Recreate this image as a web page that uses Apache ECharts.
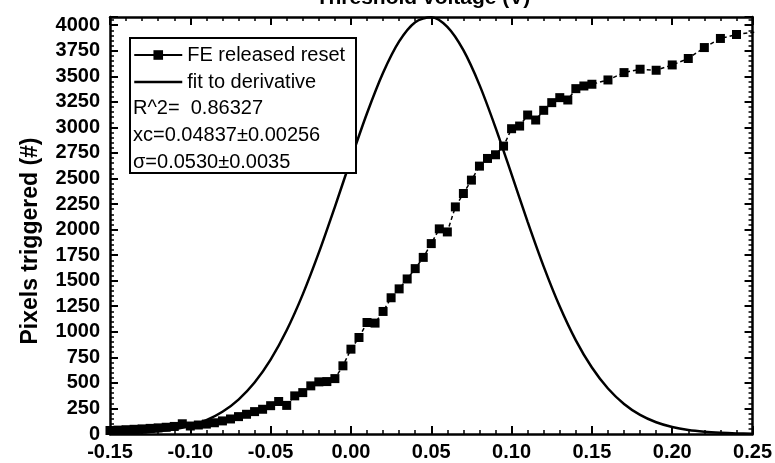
<!DOCTYPE html>
<html><head><meta charset="utf-8">
<script src="https://cdn.jsdelivr.net/npm/echarts@6/dist/echarts.min.js"></script>
<style>html,body{margin:0;padding:0;background:#fff}#c{width:775px;height:463px}</style>
</head><body><div id="c"></div>
<script>
// Measured data: "FE released reset" (threshold voltage V, pixels triggered)
const dataX = [-0.15,-0.145,-0.14,-0.135,-0.13,-0.125,-0.12,-0.115,-0.11,-0.105,-0.1,-0.095,-0.09,-0.085,-0.08,-0.075,-0.07,-0.065,-0.06,-0.055,-0.05,-0.045,-0.04,-0.035,-0.03,-0.025,-0.02,-0.015,-0.01,-0.005,0,0.005,0.01,0.015,0.02,0.025,0.03,0.035,0.04,0.045,0.05,0.055,0.06,0.065,0.07,0.075,0.08,0.085,0.09,0.095,0.1,0.105,0.11,0.115,0.12,0.125,0.13,0.135,0.14,0.145,0.15,0.16,0.17,0.18,0.19,0.2,0.21,0.22,0.23,0.24,0.26];
const dataY = [34,38,42,46,50,55,60,66,74,100,78,88,97,110,128,147,170,193,219,242,277,318,280,373,405,471,510,513,542,667,830,944,1091,1085,1199,1333,1420,1517,1618,1728,1863,2007,1977,2222,2353,2484,2621,2696,2732,2817,2987,3013,3121,3072,3167,3242,3291,3268,3379,3405,3422,3464,3536,3569,3559,3611,3674,3781,3870,3909,3950];
// Fit curve
const fitX = [-0.15,-0.14,-0.13,-0.12,-0.11,-0.1,-0.09,-0.08,-0.07,-0.06,-0.05,-0.04,-0.03,-0.02,-0.01,0,0.01,0.02,0.03,0.04,0.05,0.06,0.07,0.08,0.09,0.1,0.11,0.12,0.13,0.14,0.15,0.16,0.17,0.18,0.19,0.2,0.21,0.22,0.23,0.24,0.25];
const fitY = [4,7,14,26,47,81,135,217,337,504,728,1015,1366,1774,2223,2689,3138,3534,3841,4029,4078,3983,3755,3416,2998,2540,2076,1638,1247,916,650,445,294,187,115,68,39,22,12,6,3];
const seriesNames = ['FE released reset', 'fit to derivative'];
const fitInfo = ['R^2=  0.86327', 'xc=0.04837\u00b10.00256', '\u03c3=0.0530\u00b10.0035'];
const xName = 'Threshold voltage (V)';
const yName = 'Pixels triggered (#)';

const FONT = '"Liberation Sans", Arial, Helvetica, sans-serif';
const pair = (xs, ys) => xs.map((x, i) => [x, ys[i]]);

function xAx(pos, showLabel) {
  return {
    type: 'value', position: pos, min: -0.15, max: 0.25, interval: 0.05,
    axisLine: {show: true, onZero: false, lineStyle: {color: '#000', width: 2.5}},
    axisTick: {show: true, inside: true, length: 8, lineStyle: {color: '#000', width: 2}},
    minorTick: {show: true, splitNumber: 5, length: 4, lineStyle: {color: '#000', width: 1.5}},
    axisLabel: {show: showLabel, margin: 8, color: '#000', fontSize: 20, fontWeight: 'bold', fontFamily: FONT,
      formatter: v => v.toFixed(2)},
    splitLine: {show: false}
  };
}
function yAx(pos, showLabel) {
  return {
    type: 'value', position: pos, min: 0, max: 4080, interval: 250,
    axisLine: {show: true, onZero: false, lineStyle: {color: '#000', width: 2.5}},
    axisTick: {show: true, inside: true, length: 8, lineStyle: {color: '#000', width: 2}},
    minorTick: {show: true, splitNumber: 5, length: 4, lineStyle: {color: '#000', width: 1.5}},
    axisLabel: {show: showLabel, margin: 10, color: '#000', fontSize: 20, fontWeight: 'bold', fontFamily: FONT,
      showMaxLabel: false, formatter: v => (v % 250 === 0 ? String(v) : '')},
    splitLine: {show: false}
  };
}

const chart = echarts.init(document.getElementById('c'), null, {renderer: 'canvas'});
chart.setOption({
  animation: false,
  backgroundColor: '#fff',
  grid: {left: 110, right: 18, top: 17, bottom: 29, containLabel: false},
  xAxis: [xAx('bottom', true), xAx('top', false)],
  yAxis: [yAx('left', true), yAx('right', false)],
  legend: {
    orient: 'vertical', left: 133, top: 45, padding: 0, itemGap: 7,
    itemWidth: 48, itemHeight: 12, z: 6,
    textStyle: {fontSize: 20, color: '#000', fontFamily: FONT},
    data: [
      {name: seriesNames[0], lineStyle: {type: 'solid', width: 2, color: '#000'}},
      {name: seriesNames[1], lineStyle: {type: 'solid', width: 2.5, color: '#000'}, itemStyle: {opacity: 0}}
    ]
  },
  series: [
    {
      name: seriesNames[1], type: 'line', data: pair(fitX, fitY), smooth: 0.3,
      symbol: 'none', color: '#000', z: 2,
      lineStyle: {color: '#000', width: 2.5}
    },
    {
      name: seriesNames[0], type: 'line', data: pair(dataX, dataY),
      symbol: 'rect', symbolSize: 9, color: '#000', z: 2,
      itemStyle: {color: '#000'},
      lineStyle: {color: '#000', width: 1.5, type: [4, 3]}
    }
  ],
  graphic: [
    {type: 'rect', z: 3, shape: {x: 130, y: 38, width: 226, height: 135},
      style: {fill: '#fff', stroke: '#000', lineWidth: 2}},
    {type: 'text', z: 7, x: 133, y: 108, style: {text: fitInfo[0], font: '20px ' + FONT, fill: '#000', verticalAlign: 'middle'}},
    {type: 'text', z: 7, x: 133, y: 135, style: {text: fitInfo[1], font: '20px ' + FONT, fill: '#000', verticalAlign: 'middle'}},
    {type: 'text', z: 7, x: 133, y: 162, style: {text: fitInfo[2], font: '20px ' + FONT, fill: '#000', verticalAlign: 'middle'}},
    {type: 'text', z: 7, x: 423, y: -2, style: {text: xName, font: 'bold 21px ' + FONT, fill: '#000', align: 'center', verticalAlign: 'middle'}},
    {type: 'text', z: 7, x: 31, y: 241, rotation: Math.PI / 2, style: {text: yName, font: 'bold 23px ' + FONT, fill: '#000', align: 'center', verticalAlign: 'middle'}}
  ]
});
</script>
</body></html>
